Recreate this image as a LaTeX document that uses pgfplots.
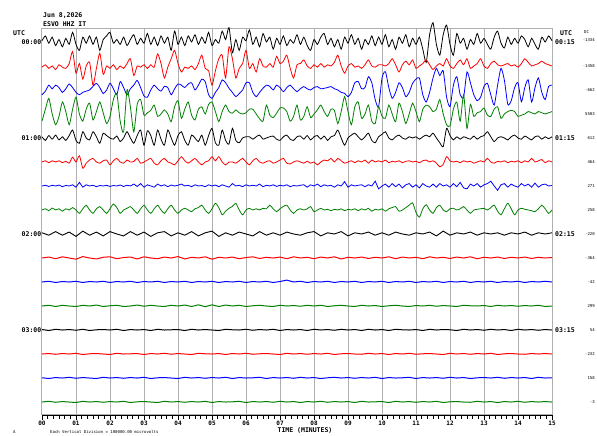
\documentclass[border=0pt]{standalone}
\usepackage{pgfplots}
\pgfplotsset{compat=1.18}
\usepackage{pgfplotstable}
\usepackage{fontspec}
\setmainfont{DejaVu Sans Mono}
\definecolor{sgreen}{RGB}{0,128,0}
\definecolor{sred}{RGB}{255,0,0}
\definecolor{sblue}{RGB}{0,0,255}
\definecolor{gridgray}{RGB}{175,175,175}

% 0.1-minute step traces (0..7)
\pgfplotstableread[header=false,row sep=\\]{
0.05\\0.25\\-0.05\\0.2\\-0.15\\0.1\\-0.2\\0.15\\-0.1\\0.4\\
-0.1\\-0.35\\0.2\\-0.05\\0.25\\-0.1\\0.2\\-0.35\\0.1\\0.25\\
0.4\\-0.05\\0.1\\-0.1\\0.2\\-0.15\\0.1\\0.3\\-0.1\\0.15\\
-0.05\\0.35\\-0.1\\0.2\\-0.15\\0.25\\-0.05\\0.2\\-0.35\\0.45\\
-0.1\\0.2\\-0.15\\0.25\\0.0\\0.3\\-0.1\\0.2\\-0.05\\0.4\\
-0.15\\0.1\\-0.05\\0.45\\0.1\\0.6\\-0.45\\0.1\\-0.35\\0.2\\
0.05\\0.5\\-0.1\\0.2\\-0.2\\0.35\\0.0\\0.2\\-0.3\\0.15\\
-0.1\\0.25\\-0.15\\0.1\\-0.05\\0.3\\-0.1\\0.2\\-0.15\\-0.35\\
0.1\\-0.1\\0.2\\0.35\\-0.1\\0.15\\-0.2\\0.1\\-0.3\\0.2\\
-0.05\\0.3\\-0.1\\0.15\\-0.3\\0.1\\-0.1\\0.25\\-0.15\\0.2\\
-0.1\\0.3\\-0.2\\0.1\\-0.3\\0.2\\-0.05\\0.3\\-0.2\\0.15\\
-0.1\\0.2\\-0.3\\-0.85\\0.3\\0.8\\-0.1\\-0.55\\0.3\\0.7\\
-0.1\\-0.55\\0.35\\-0.05\\0.15\\-0.3\\0.1\\-0.1\\0.35\\-0.05\\
0.15\\-0.1\\-0.3\\0.2\\0.45\\-0.05\\-0.25\\0.2\\-0.1\\0.15\\
-0.05\\0.25\\0.1\\-0.2\\0.15\\-0.1\\-0.3\\0.2\\0.0\\0.25\\
0.05\\
}\tA
\pgfplotstableread[header=false,row sep=\\]{
-0.05\\0.05\\-0.1\\0.0\\-0.15\\0.05\\-0.05\\-0.1\\0.1\\0.6\\
-0.3\\0.1\\-0.55\\0.0\\0.15\\-0.8\\-0.1\\0.53\\-0.35\\0.0\\
-0.1\\0.05\\-0.15\\0.0\\-0.1\\0.1\\0.3\\-0.4\\0.0\\-0.05\\
0.05\\-0.1\\0.05\\-0.05\\0.5\\0.1\\-0.5\\-0.05\\0.3\\0.65\\
0.1\\-0.25\\-0.05\\-0.1\\0.0\\-0.15\\0.1\\0.45\\-0.1\\-0.2\\
-0.8\\-0.2\\0.3\\0.45\\-0.5\\0.8\\0.3\\-0.5\\-0.1\\0.1\\
0.65\\-0.1\\0.1\\-0.25\\0.3\\0.0\\-0.05\\0.1\\-0.05\\0.4\\
0.1\\0.2\\0.45\\-0.1\\-0.5\\0.05\\0.1\\0.25\\0.0\\-0.1\\
0.05\\-0.05\\0.1\\-0.05\\0.05\\0.0\\0.15\\0.45\\0.0\\-0.3\\
0.0\\0.1\\-0.05\\0.0\\-0.1\\0.05\\0.25\\0.0\\-0.05\\0.05\\
0.05\\0.0\\0.1\\0.3\\0.05\\-0.25\\0.05\\0.2\\0.05\\0.25\\
-0.1\\0.0\\0.1\\0.25\\0.05\\-0.15\\0.0\\0.1\\0.0\\0.3\\
0.0\\-0.1\\0.1\\0.25\\0.05\\0.3\\-0.1\\0.0\\0.1\\0.3\\
0.0\\-0.1\\0.1\\0.2\\0.05\\0.0\\0.05\\0.1\\0.0\\0.05\\
-0.05\\0.1\\0.3\\0.15\\0.0\\0.05\\0.1\\0.2\\0.1\\0.05\\
0.0\\
}\tB
\pgfplotstableread[header=false,row sep=\\]{
-0.2\\-0.05\\0.2\\0.05\\0.2\\0.1\\-0.1\\0.05\\0.25\\0.1\\
-0.1\\-0.2\\-0.1\\-0.05\\0.0\\0.15\\0.28\\0.1\\-0.15\\0.0\\
0.28\\0.05\\-0.2\\0.35\\0.1\\-0.2\\0.05\\0.2\\0.4\\0.1\\
-0.25\\-0.3\\0.0\\0.2\\0.05\\-0.05\\0.15\\0.1\\-0.2\\0.05\\
0.25\\0.2\\0.1\\0.25\\0.3\\0.0\\0.2\\0.45\\0.35\\-0.2\\
-0.35\\-0.1\\0.1\\0.42\\0.3\\0.07\\-0.1\\-0.28\\-0.15\\0.0\\
0.3\\0.3\\-0.1\\-0.28\\-0.1\\0.07\\0.2\\0.15\\0.0\\0.2\\
0.1\\-0.07\\0.1\\0.2\\0.05\\-0.07\\0.05\\0.14\\0.05\\0.0\\
0.1\\0.14\\0.05\\0.07\\0.1\\0.14\\0.05\\0.0\\-0.1\\-0.14\\
-0.28\\-0.1\\0.3\\0.35\\0.05\\0.1\\0.55\\0.3\\-0.4\\-0.7\\
0.5\\0.76\\0.1\\-0.35\\-0.1\\0.3\\0.1\\-0.28\\-0.1\\0.28\\
0.45\\0.5\\-0.2\\-0.5\\-0.1\\0.5\\0.9\\0.6\\0.8\\-0.3\\
-0.7\\0.2\\0.55\\-0.2\\-0.3\\0.75\\0.3\\-0.2\\-0.45\\-0.3\\
0.15\\0.28\\-0.2\\-0.63\\0.2\\0.9\\0.4\\-0.6\\-0.45\\0.1\\
0.3\\-0.49\\0.1\\0.42\\-0.5\\0.1\\0.5\\-0.1\\-0.4\\0.15\\
0.2\\
}\tC
\pgfplotstableread[header=false,row sep=\\]{
-0.3\\0.2\\0.65\\0.0\\-0.45\\-0.1\\0.5\\0.1\\-0.45\\0.2\\
0.7\\0.0\\-0.3\\0.2\\0.45\\-0.25\\0.1\\0.5\\0.05\\-0.4\\
-0.1\\0.6\\0.85\\-0.3\\-0.75\\1.0\\0.3\\-0.75\\0.4\\0.6\\
-0.05\\0.05\\0.15\\0.37\\-0.1\\0.0\\0.17\\0.0\\-0.32\\0.3\\
0.55\\-0.18\\0.2\\0.5\\-0.05\\-0.25\\0.2\\0.3\\0.0\\0.4\\
0.5\\0.1\\-0.32\\0.1\\0.37\\0.1\\0.03\\0.17\\0.05\\0.0\\
0.05\\0.2\\0.2\\0.0\\-0.2\\-0.3\\0.37\\-0.05\\-0.15\\0.03\\
0.25\\0.25\\0.1\\-0.3\\-0.1\\0.37\\-0.25\\-0.1\\0.3\\-0.15\\
0.0\\0.17\\0.37\\0.1\\-0.1\\0.2\\0.15\\-0.4\\0.1\\0.72\\
0.1\\-0.45\\0.3\\0.5\\-0.18\\0.0\\0.37\\-0.3\\-0.4\\0.3\\
-0.1\\-0.18\\0.37\\0.0\\-0.32\\0.45\\0.1\\-0.4\\0.0\\0.45\\
0.1\\-0.32\\0.2\\0.37\\0.3\\0.1\\0.2\\0.6\\0.0\\-0.45\\
-0.5\\0.2\\0.5\\-0.3\\0.8\\-0.6\\0.4\\-0.1\\0.05\\0.1\\
0.25\\-0.05\\-0.1\\0.2\\0.3\\-0.18\\0.0\\0.1\\0.15\\0.1\\
-0.1\\-0.05\\0.0\\0.1\\0.05\\0.0\\0.1\\0.05\\0.0\\0.05\\
0.1\\
}\tD
\pgfplotstableread[header=false,row sep=\\]{
0.05\\-0.1\\0.1\\-0.05\\0.12\\-0.08\\0.05\\-0.1\\0.1\\0.33\\
-0.1\\-0.22\\0.26\\0.0\\-0.08\\0.26\\0.05\\-0.22\\0.2\\0.1\\
0.0\\-0.05\\0.08\\-0.15\\0.0\\0.26\\0.0\\-0.22\\0.1\\0.33\\
-0.3\\0.3\\0.1\\-0.3\\0.33\\-0.05\\-0.3\\0.33\\0.0\\-0.3\\
0.1\\0.26\\-0.1\\-0.3\\0.12\\0.0\\-0.15\\0.12\\-0.3\\0.1\\
0.4\\-0.2\\-0.3\\0.33\\-0.1\\-0.25\\0.4\\-0.1\\-0.2\\0.0\\
0.05\\0.05\\-0.05\\0.05\\0.12\\-0.05\\0.0\\0.05\\0.08\\-0.05\\
-0.1\\0.05\\0.12\\-0.05\\-0.1\\0.05\\0.08\\-0.05\\0.1\\-0.08\\
0.05\\0.1\\-0.05\\0.08\\-0.1\\0.05\\0.1\\0.33\\0.0\\-0.3\\
0.0\\0.12\\0.2\\0.05\\-0.08\\0.05\\0.2\\-0.1\\-0.2\\0.05\\
0.15\\0.26\\0.0\\-0.08\\0.05\\0.12\\0.0\\-0.05\\0.05\\0.0\\
0.05\\-0.05\\0.05\\0.12\\0.05\\0.2\\0.0\\-0.2\\-0.36\\0.4\\
0.1\\-0.08\\0.05\\-0.05\\0.05\\0.0\\-0.05\\0.08\\-0.05\\0.05\\
0.1\\0.26\\0.05\\-0.15\\0.0\\0.05\\0.0\\-0.08\\0.05\\0.12\\
0.0\\-0.05\\0.08\\0.0\\-0.08\\0.05\\0.08\\-0.05\\0.05\\-0.03\\
0.05\\
}\tE
\pgfplotstableread[header=false,row sep=\\]{
0.0\\0.05\\-0.03\\0.05\\0.0\\0.05\\-0.03\\0.03\\-0.05\\0.2\\
0.0\\0.26\\-0.26\\-0.05\\0.08\\0.15\\0.0\\-0.05\\0.05\\0.08\\
-0.12\\0.05\\0.15\\0.0\\-0.05\\0.08\\0.0\\0.02\\0.15\\-0.05\\
0.0\\0.08\\0.15\\-0.05\\-0.12\\0.05\\0.15\\0.0\\-0.05\\-0.12\\
0.05\\0.22\\0.05\\-0.05\\0.05\\0.15\\0.0\\-0.12\\0.0\\0.05\\
0.22\\0.05\\0.22\\0.0\\-0.12\\0.0\\0.0\\-0.05\\0.05\\0.15\\
0.0\\-0.12\\0.05\\0.15\\0.0\\-0.05\\0.02\\0.05\\-0.05\\0.0\\
0.08\\0.15\\-0.05\\-0.08\\0.0\\0.05\\0.0\\-0.05\\0.03\\-0.05\\
0.0\\-0.12\\0.0\\0.08\\0.05\\0.15\\0.0\\0.15\\0.05\\-0.05\\
0.0\\0.05\\-0.03\\0.05\\0.0\\0.08\\-0.05\\0.08\\0.0\\0.05\\
0.0\\0.08\\-0.03\\0.03\\0.0\\0.05\\-0.03\\0.03\\0.05\\0.0\\
0.03\\-0.03\\0.05\\0.08\\0.0\\0.05\\-0.05\\-0.2\\-0.1\\0.22\\
0.05\\0.0\\0.03\\-0.03\\0.05\\0.0\\0.03\\-0.05\\0.0\\0.05\\
0.0\\0.15\\0.0\\-0.05\\0.03\\0.0\\0.05\\-0.03\\0.03\\0.0\\
0.05\\-0.03\\0.05\\0.0\\0.15\\0.0\\0.05\\0.1\\-0.03\\0.05\\
0.0\\
}\tF
\pgfplotstableread[header=false,row sep=\\]{
0.0\\0.03\\-0.02\\0.03\\0.0\\0.04\\-0.03\\0.02\\0.0\\0.05\\
-0.05\\0.15\\-0.05\\0.05\\0.0\\0.03\\-0.03\\0.02\\0.0\\0.03\\
-0.02\\0.02\\0.0\\0.04\\-0.02\\0.03\\0.0\\0.08\\-0.02\\0.1\\
-0.05\\0.05\\0.0\\-0.05\\0.08\\0.0\\0.05\\-0.03\\0.04\\0.0\\
0.03\\0.08\\0.0\\0.03\\-0.03\\0.05\\0.0\\0.02\\-0.03\\0.05\\
0.0\\0.04\\-0.03\\0.05\\0.0\\-0.05\\0.1\\0.0\\0.03\\-0.03\\
0.05\\0.0\\0.03\\0.0\\0.08\\-0.03\\0.03\\0.0\\0.05\\-0.02\\
0.03\\0.0\\0.05\\-0.03\\0.02\\0.0\\0.03\\0.05\\-0.05\\0.05\\
0.0\\0.08\\-0.03\\0.05\\0.0\\0.03\\-0.05\\0.05\\0.0\\0.18\\
-0.05\\0.05\\0.0\\0.03\\0.05\\-0.03\\0.05\\0.0\\0.2\\-0.12\\
0.0\\0.08\\-0.05\\0.1\\-0.03\\0.08\\-0.08\\0.05\\0.1\\-0.05\\
0.05\\-0.08\\0.1\\0.0\\-0.05\\0.08\\-0.05\\0.1\\0.0\\0.05\\
-0.05\\0.1\\-0.03\\0.15\\-0.08\\-0.12\\0.08\\0.0\\0.1\\-0.05\\
0.05\\0.1\\0.2\\0.0\\-0.18\\0.05\\0.1\\-0.05\\0.08\\0.0\\
-0.05\\0.1\\0.0\\0.08\\-0.05\\0.12\\-0.05\\0.05\\0.08\\0.0\\
0.02\\
}\tG
\pgfplotstableread[header=false,row sep=\\]{
0.0\\0.05\\-0.03\\0.08\\0.0\\0.05\\-0.05\\0.05\\0.0\\0.1\\
0.0\\-0.14\\0.05\\0.2\\0.0\\-0.14\\0.05\\0.14\\0.0\\-0.14\\
0.05\\0.25\\0.1\\-0.14\\0.0\\0.07\\0.14\\0.0\\-0.14\\0.05\\
0.2\\0.0\\-0.14\\0.05\\0.2\\0.0\\-0.14\\0.05\\0.2\\0.0\\
-0.14\\0.0\\0.07\\0.0\\-0.07\\0.05\\0.1\\0.2\\0.0\\-0.14\\
0.05\\0.28\\0.1\\-0.2\\-0.05\\0.07\\0.15\\0.28\\0.0\\-0.2\\
0.0\\0.07\\0.0\\0.05\\0.0\\0.07\\0.05\\0.2\\0.05\\-0.07\\
0.05\\0.15\\0.2\\0.0\\-0.14\\0.0\\0.05\\0.0\\0.05\\0.14\\
-0.07\\0.0\\0.07\\0.0\\0.03\\-0.03\\0.03\\0.0\\0.05\\-0.03\\
0.03\\0.0\\0.05\\-0.03\\0.05\\0.0\\0.07\\-0.05\\0.03\\0.0\\
0.05\\-0.05\\0.05\\0.1\\0.14\\-0.05\\0.0\\0.1\\0.2\\0.3\\
-0.1\\-0.3\\0.05\\0.22\\0.0\\-0.14\\0.1\\0.2\\0.0\\-0.07\\
0.05\\0.07\\0.0\\0.05\\0.14\\0.0\\-0.14\\0.0\\0.03\\0.05\\
0.07\\0.0\\0.1\\0.2\\-0.05\\-0.2\\0.05\\0.28\\0.05\\-0.2\\
0.0\\0.07\\0.03\\0.0\\-0.03\\-0.07\\0.05\\0.2\\0.05\\-0.14\\
0.0\\
}\tH
% 0.2-minute step traces (8..15)
\pgfplotstableread[header=false,row sep=\\]{
0.05\\-0.05\\0.1\\-0.05\\0.08\\-0.1\\0.12\\-0.05\\0.08\\-0.08\\
0.1\\0.0\\-0.08\\0.1\\-0.05\\0.08\\-0.1\\0.05\\0.1\\-0.08\\
0.05\\-0.05\\0.1\\-0.08\\0.05\\0.12\\-0.1\\0.05\\-0.05\\0.08\\
0.0\\-0.08\\0.1\\-0.05\\0.05\\-0.05\\0.08\\0.0\\-0.05\\0.05\\
0.1\\-0.08\\0.05\\0.0\\0.1\\-0.08\\0.05\\0.0\\0.08\\-0.05\\
0.05\\-0.05\\0.08\\0.0\\-0.05\\0.05\\0.0\\0.08\\-0.08\\0.12\\
-0.05\\0.05\\0.0\\0.08\\-0.05\\0.05\\0.0\\0.05\\-0.05\\0.05\\
0.0\\0.08\\-0.05\\0.05\\0.0\\0.05\\
}\tI
\pgfplotstableread[header=false,row sep=\\]{
0.0\\0.04\\-0.03\\0.05\\0.0\\-0.05\\0.06\\0.0\\-0.04\\0.03\\
0.05\\-0.03\\0.02\\0.04\\-0.04\\0.05\\0.0\\-0.03\\0.04\\0.0\\
0.06\\-0.04\\0.03\\0.0\\0.05\\-0.05\\0.03\\0.0\\0.04\\-0.03\\
0.02\\0.05\\-0.02\\0.03\\0.0\\0.04\\-0.03\\0.05\\0.0\\0.03\\
-0.03\\0.04\\0.0\\0.05\\-0.04\\0.03\\0.0\\0.04\\-0.02\\0.03\\
0.0\\0.05\\-0.03\\0.04\\0.0\\0.03\\-0.03\\0.05\\0.0\\0.03\\
-0.02\\0.04\\0.0\\0.05\\-0.03\\0.03\\0.0\\0.04\\-0.02\\0.03\\
0.0\\0.04\\-0.02\\0.03\\0.0\\0.02\\
}\tJ
\pgfplotstableread[header=false,row sep=\\]{
0.0\\0.03\\-0.02\\0.02\\0.0\\0.03\\-0.02\\0.02\\0.0\\0.03\\
-0.02\\0.02\\0.0\\0.03\\-0.02\\0.02\\0.0\\0.03\\-0.02\\0.02\\
0.0\\0.03\\-0.02\\0.02\\0.0\\0.03\\-0.02\\0.02\\0.0\\0.03\\
-0.02\\0.02\\0.0\\0.03\\-0.02\\0.02\\0.08\\0.0\\0.03\\-0.02\\
0.02\\0.0\\0.03\\-0.02\\0.02\\0.0\\0.03\\-0.02\\0.02\\0.0\\
0.03\\-0.02\\0.02\\0.0\\0.03\\-0.02\\0.02\\0.0\\0.03\\-0.02\\
0.02\\0.0\\0.03\\-0.02\\0.02\\0.0\\0.03\\-0.02\\0.02\\0.0\\
0.03\\-0.02\\0.02\\0.0\\0.03\\0.0\\
}\tK
\pgfplotstableread[header=false,row sep=\\]{
0.0\\0.03\\-0.02\\0.03\\0.0\\-0.02\\0.03\\0.0\\0.04\\-0.02\\
0.01\\0.03\\-0.02\\0.0\\0.04\\-0.01\\0.03\\0.0\\-0.02\\0.03\\
0.0\\0.04\\-0.02\\0.05\\-0.03\\0.05\\-0.02\\0.04\\0.0\\0.03\\
-0.02\\0.01\\0.03\\0.0\\-0.02\\0.03\\0.0\\0.02\\-0.01\\0.03\\
0.0\\0.03\\-0.02\\0.01\\0.03\\0.0\\-0.02\\0.03\\0.0\\0.02\\
-0.02\\0.01\\0.03\\0.0\\-0.02\\0.02\\0.0\\0.03\\-0.01\\0.02\\
0.0\\-0.02\\0.03\\0.01\\0.0\\0.02\\-0.02\\0.03\\0.0\\0.02\\
-0.01\\0.02\\0.0\\0.03\\-0.02\\0.0\\
}\tL
\pgfplotstableread[header=false,row sep=\\]{
0.02\\-0.02\\0.03\\0.0\\0.02\\-0.01\\0.03\\-0.02\\0.01\\0.02\\
0.0\\0.03\\-0.02\\0.02\\0.0\\0.02\\-0.02\\0.03\\0.0\\0.01\\
0.02\\-0.02\\0.03\\0.0\\0.02\\0.0\\-0.02\\0.03\\0.01\\0.0\\
0.03\\-0.01\\0.02\\0.0\\0.03\\-0.02\\0.02\\0.0\\0.02\\-0.02\\
0.03\\0.0\\0.02\\-0.01\\0.03\\0.0\\0.02\\-0.02\\0.03\\0.0\\
0.02\\-0.02\\0.03\\0.01\\0.0\\0.02\\-0.02\\0.03\\0.0\\0.02\\
0.01\\-0.02\\0.03\\0.0\\0.02\\-0.01\\0.03\\0.0\\0.02\\-0.02\\
0.03\\0.0\\0.02\\-0.01\\0.02\\0.0\\
}\tM
\pgfplotstableread[header=false,row sep=\\]{
0.0\\0.02\\-0.01\\0.02\\0.0\\0.03\\-0.02\\0.01\\0.02\\0.0\\
-0.02\\0.03\\0.0\\0.01\\0.02\\-0.02\\0.02\\0.0\\0.03\\-0.01\\
0.02\\0.0\\-0.02\\0.03\\0.01\\0.0\\0.02\\-0.02\\0.02\\0.0\\
0.03\\-0.01\\0.01\\0.02\\0.0\\-0.02\\0.03\\0.0\\0.02\\-0.01\\
0.02\\0.0\\0.03\\-0.02\\0.01\\0.02\\0.0\\-0.01\\0.03\\0.0\\
0.02\\-0.02\\0.02\\0.0\\0.03\\-0.01\\0.01\\0.02\\0.0\\-0.02\\
0.03\\0.0\\0.02\\-0.01\\0.02\\0.0\\0.03\\-0.02\\0.01\\0.02\\
0.0\\-0.01\\0.02\\0.0\\0.02\\0.0\\
}\tN
\pgfplotstableread[header=false,row sep=\\]{
0.01\\-0.02\\0.02\\0.0\\0.03\\-0.01\\0.02\\0.0\\-0.02\\0.03\\
0.0\\0.02\\-0.01\\0.02\\0.0\\0.03\\-0.02\\0.01\\0.02\\0.0\\
-0.02\\0.03\\0.0\\0.02\\-0.01\\0.02\\0.0\\0.03\\-0.02\\0.02\\
0.0\\0.01\\0.03\\-0.02\\0.02\\0.0\\0.02\\-0.01\\0.03\\0.0\\
0.02\\-0.02\\0.01\\0.03\\0.0\\0.02\\-0.01\\0.02\\0.0\\0.03\\
-0.02\\0.02\\0.0\\0.01\\0.03\\-0.02\\0.02\\0.0\\0.02\\-0.01\\
0.03\\0.0\\0.02\\-0.02\\0.01\\0.02\\0.0\\0.03\\-0.01\\0.02\\
0.0\\0.02\\-0.02\\0.03\\0.0\\0.01\\
}\tO
\pgfplotstableread[header=false,row sep=\\]{
0.0\\0.03\\-0.01\\0.02\\0.0\\-0.02\\0.03\\0.0\\0.02\\-0.01\\
0.02\\0.0\\0.03\\-0.02\\0.01\\0.02\\0.0\\-0.02\\0.03\\0.0\\
0.02\\-0.01\\0.02\\0.0\\0.03\\-0.02\\0.02\\0.0\\0.01\\0.03\\
-0.02\\0.02\\0.0\\0.02\\-0.01\\0.03\\0.0\\0.02\\-0.02\\0.02\\
0.0\\0.03\\-0.01\\0.02\\0.0\\0.02\\-0.02\\0.03\\0.0\\0.01\\
0.02\\-0.02\\0.03\\0.0\\0.02\\-0.01\\0.02\\0.0\\0.03\\-0.02\\
0.01\\0.02\\0.0\\-0.01\\0.03\\0.0\\0.02\\-0.02\\0.02\\0.0\\
0.03\\-0.01\\0.02\\0.0\\0.02\\0.0\\
}\tP

\begin{document}
\begin{tikzpicture}[x=1pt,y=1pt]
\path[use as bounding box] (0,0) rectangle (597,436);
\begin{axis}[
  scale only axis, width=510pt, height=386pt,
  at={(42pt,21pt)}, anchor=south west,
  xmin=0, xmax=15, ymin=-15.54, ymax=0.54,
  axis line style={draw=gridgray, line width=1pt},
  xtick={0,1,...,15},
  xticklabels={00,01,02,03,04,05,06,07,08,09,10,11,12,13,14,15},
  xticklabel style={font=\bfseries\fontsize{6}{6}\selectfont, inner sep=1pt},
  minor x tick num=5,
  xtick pos=left, tick align=outside,
  major tick length=5pt, minor tick length=4pt,
  tick style={black, line width=0.6pt},
  ytick=\empty,
  xmajorgrids, grid style={gridgray, line width=1pt},
  clip=false,
]
\addplot[black, line width=0.8pt, smooth, tension=0.4] table[x index=0, y index=0, x expr=\coordindex*0.1, y expr=\thisrowno{0}]{\tA};
\addplot[sred, line width=0.8pt, smooth, tension=0.4] table[x index=0, y index=0, x expr=\coordindex*0.1, y expr=\thisrowno{0}-1]{\tB};
\addplot[sblue, line width=0.8pt, smooth, tension=0.4] table[x index=0, y index=0, x expr=\coordindex*0.1, y expr=\thisrowno{0}-2]{\tC};
\addplot[sgreen, line width=0.8pt, smooth, tension=0.4] table[x index=0, y index=0, x expr=\coordindex*0.1, y expr=\thisrowno{0}-3]{\tD};
\addplot[black, line width=0.8pt, smooth, tension=0.4] table[x index=0, y index=0, x expr=\coordindex*0.1, y expr=\thisrowno{0}-4]{\tE};
\addplot[sred, line width=0.8pt, smooth, tension=0.4] table[x index=0, y index=0, x expr=\coordindex*0.1, y expr=\thisrowno{0}-5]{\tF};
\addplot[sblue, line width=0.8pt] table[x index=0, y index=0, x expr=\coordindex*0.1, y expr=\thisrowno{0}-6]{\tG};
\addplot[sgreen, line width=0.8pt, smooth, tension=0.4] table[x index=0, y index=0, x expr=\coordindex*0.1, y expr=\thisrowno{0}-7]{\tH};
\addplot[black, line width=0.9pt] table[x index=0, y index=0, x expr=\coordindex*0.2, y expr=\thisrowno{0}-8]{\tI};
\addplot[sred, line width=1pt] table[x index=0, y index=0, x expr=\coordindex*0.2, y expr=\thisrowno{0}-9]{\tJ};
\addplot[sblue, line width=1pt] table[x index=0, y index=0, x expr=\coordindex*0.2, y expr=\thisrowno{0}-10]{\tK};
\addplot[sgreen, line width=1pt] table[x index=0, y index=0, x expr=\coordindex*0.2, y expr=\thisrowno{0}-11]{\tL};
\addplot[black, line width=1pt] table[x index=0, y index=0, x expr=\coordindex*0.2, y expr=\thisrowno{0}-12]{\tM};
\addplot[sred, line width=1pt] table[x index=0, y index=0, x expr=\coordindex*0.2, y expr=\thisrowno{0}-13]{\tN};
\addplot[sblue, line width=1pt] table[x index=0, y index=0, x expr=\coordindex*0.2, y expr=\thisrowno{0}-14]{\tO};
\addplot[sgreen, line width=1pt] table[x index=0, y index=0, x expr=\coordindex*0.2, y expr=\thisrowno{0}-15]{\tP};
\end{axis}
\draw[black, line width=0.8pt] (42,21) -- (552,21);
\begin{scope}[every node/.style={inner sep=0pt, font=\bfseries\fontsize{6.5}{6.5}\selectfont}]
\node[anchor=west] at (43,420.5) {Jun 8,2026};
\node[anchor=west] at (43,411.5) {ESVO HHZ IT};
\node[anchor=west] at (13,402.5) {UTC};
\node[anchor=west] at (560,402.5) {UTC};
\node[anchor=east] at (41.5,394) {00:00};
\node[anchor=east] at (41.5,298) {01:00};
\node[anchor=east] at (41.5,202) {02:00};
\node[anchor=east] at (41.5,106) {03:00};
\node[anchor=west] at (555,394) {00:15};
\node[anchor=west] at (555,298) {01:15};
\node[anchor=west] at (555,202) {02:15};
\node[anchor=west] at (555,106) {03:15};
\node at (305,5.5) {TIME (MINUTES)};
\end{scope}
\begin{scope}[every node/.style={inner sep=0pt, font=\fontsize{4}{4}\selectfont, anchor=east}]
\node[anchor=west] at (584,404) {DC};
\node at (595,396) {-1334};
\node at (595,370) {-1458};
\node at (595,346) {-662};
\node at (595,322) {5503};
\node at (595,298) {612};
\node at (595,274) {464};
\node at (595,250) {271};
\node at (595,226) {258};
\node at (595,202) {-220};
\node at (595,178) {-364};
\node at (595,154) {-42};
\node at (595,130) {299};
\node at (595,106) {54};
\node at (595,82) {-232};
\node at (595,58) {158};
\node at (595,34) {-3};
\node[anchor=west] at (13,3.5) {A};
\node[anchor=west] at (50,4.5) {Each Vertical Division = 100000.00 microvolts};
\end{scope}
\end{tikzpicture}
\end{document}
